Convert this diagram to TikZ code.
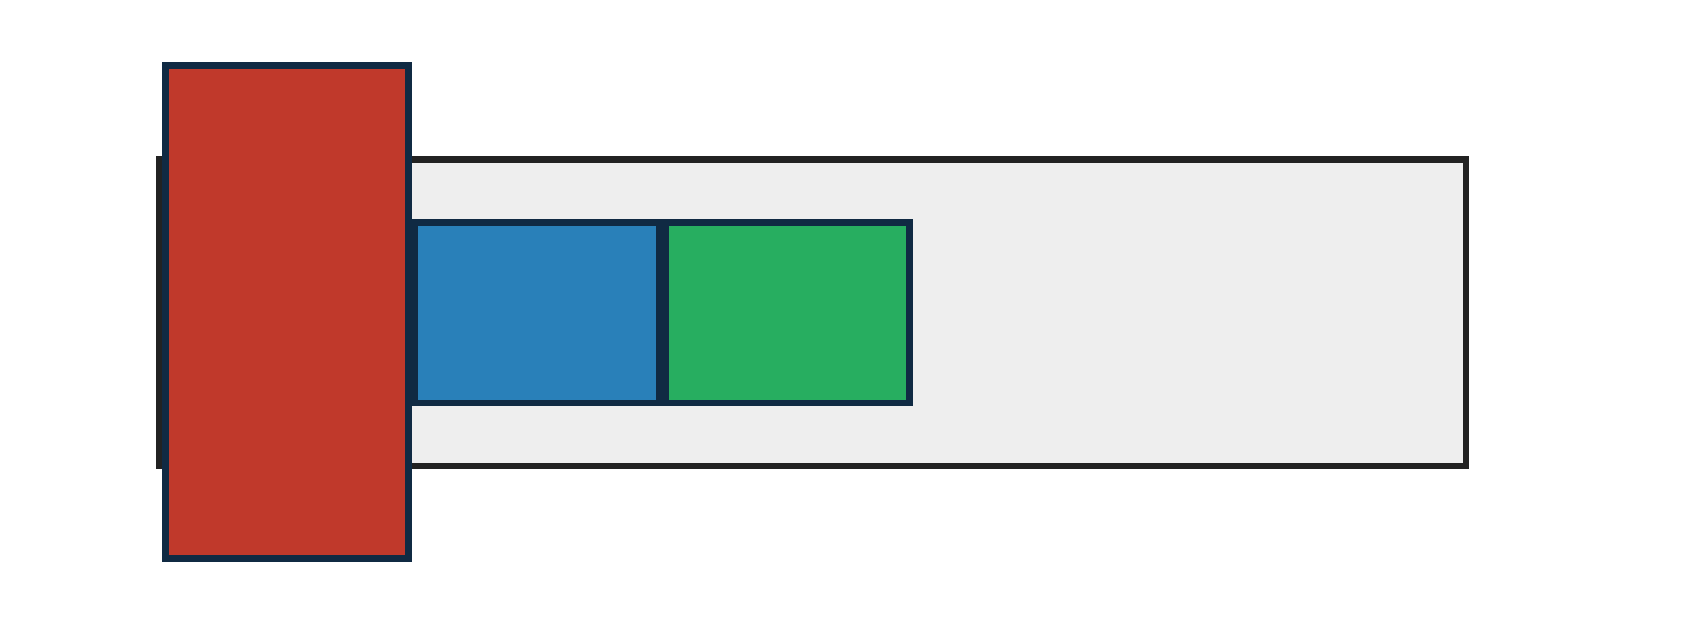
\documentclass[tikz,border=0pt]{standalone}
\definecolor{edgegray}{HTML}{222222}
\definecolor{fillgray}{HTML}{EEEEEE}
\definecolor{navy}{HTML}{102A43}
\definecolor{redfill}{HTML}{C0392B}
\definecolor{bluefill}{HTML}{2980B9}
\definecolor{greenfill}{HTML}{27AE60}
\tikzset{
  box/.style={draw, rectangle, inner sep=0pt, outer sep=0pt},
  tray/.style={box, draw=edgegray, fill=fillgray, line width=6.5pt},
  blockbox/.style={box, draw=navy, line width=6.5pt},
}
\begin{document}
\begin{tikzpicture}[x=1pt,y=-1pt]
\useasboundingbox (0,0) rectangle (1700,625);
\node[tray, minimum width=1306.5pt, minimum height=306.5pt] (tray) at (812.5,312.5) {};
\node[blockbox, fill=bluefill, minimum width=244.5pt, minimum height=180.5pt] (blue) at (537,312.5) {};
\node[blockbox, fill=greenfill, minimum width=243.5pt, minimum height=180.5pt] (green) at (787.5,312.5) {};
\node[blockbox, fill=redfill, line width=7pt, minimum width=243pt, minimum height=493pt] (red) at (287,312) {};
\end{tikzpicture}
\end{document}
